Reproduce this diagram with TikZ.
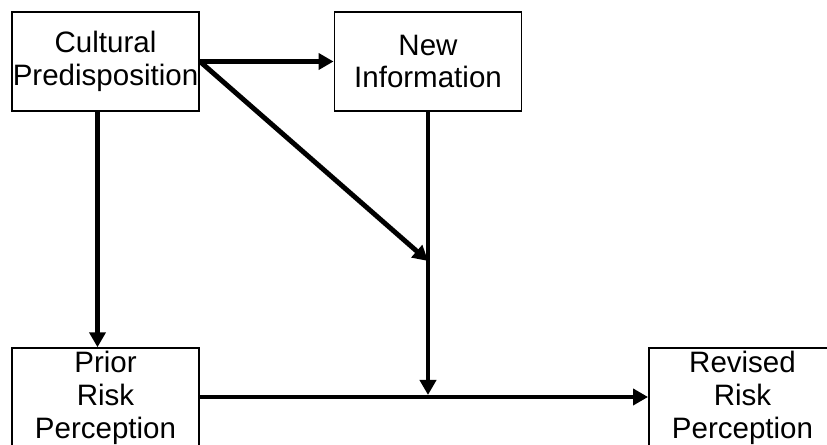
\documentclass[tikz,border=0pt]{standalone}
\usepackage{fontspec}
\setmainfont{Liberation Sans}
\usepackage{tikz}
\usetikzlibrary{arrows.meta,calc}
\tikzset{
	riskbox/.style={draw, line width=1.1pt, minimum width=3.74cm, minimum height=1.99cm, inner sep=0pt, align=center, font=\fontsize{16.8}{18.7}\selectfont},
	riskarrow/.style={line width=2.8pt, -{Triangle[length=0.3cm, width=0.32cm]}}
}

\begin{document}
\begin{tikzpicture}[x=0.02cm, y=0.02cm]
			%%%%% START %%%%%
			
			\useasboundingbox (0, 0) rectangle (827, 445);
			\clip (0, 0) rectangle (827, 445);
			
			\node[riskbox] (cult) at (105.5, 383.5) {Cultural\\Predisposition};
			\node[riskbox] (newinfo) at (428, 383.5) {New\\Information};
			\node[riskbox] (prior) at (105.5, 47) {Prior\\Risk\\Perception};
			\node[riskbox] (revised) at (742.5, 47) {Revised\\Risk\\Perception};
			
			\coordinate (mid) at (428, 184);
			\coordinate (meet) at (428, 48);
			
			\draw[riskarrow] (cult.east) -- (newinfo.west);
			\draw[riskarrow] (cult.east) -- (mid);
			\draw[riskarrow] ($(cult.south)+(-8, 0)$) -- ($(prior.north)+(-8, 0)$);
			\draw[riskarrow] (newinfo.south) -- ($(meet)+(0, 2)$);
			\draw[riskarrow] (prior.east |- meet) -- (revised.west |- meet);
			
			%%%%% END %%%%%
\end{tikzpicture}
\end{document}
